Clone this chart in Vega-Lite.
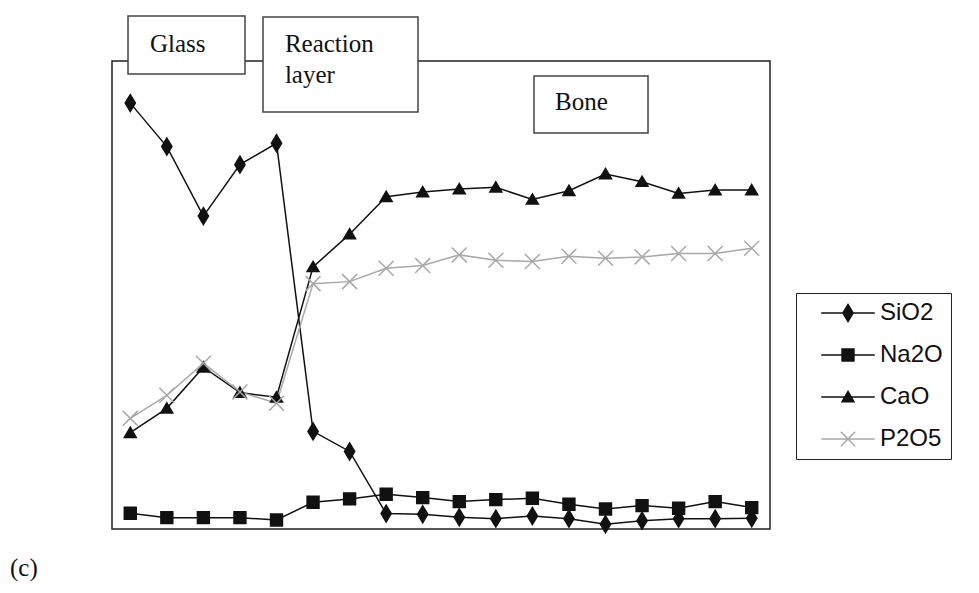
{
  "$schema": "https://vega.github.io/schema/vega-lite/v6.json",
  "width": 658,
  "height": 468,
  "autosize": "none",
  "padding": {"left": 112, "top": 61, "right": 209, "bottom": 64},
  "background": "white",
  "config": {
    "view": {"stroke": "#222", "strokeWidth": 1.5},
    "axis": {
      "labelFont": "Liberation Sans", "labelFontSize": 23, "labelColor": "#111", "labelOverlap": false,
      "domainColor": "#111", "domainWidth": 1.5, "tickColor": "#111", "tickWidth": 1.5, "tickSize": 8,
      "gridColor": "#333", "gridWidth": 1.5,
      "titleFont": "Liberation Sans", "titleFontSize": 31, "titleFontWeight": "bold", "titleColor": "#111"
    }
  },
  "datasets": {
    "oxides": [
    {"series": "SiO2", "i": 1, "value": 63.7}, {"series": "SiO2", "i": 2, "value": 57.2}, {"series": "SiO2", "i": 3, "value": 46.8},
    {"series": "SiO2", "i": 4, "value": 54.5}, {"series": "SiO2", "i": 5, "value": 57.7}, {"series": "SiO2", "i": 6, "value": 14.6},
    {"series": "SiO2", "i": 7, "value": 11.6}, {"series": "SiO2", "i": 8, "value": 2.3}, {"series": "SiO2", "i": 9, "value": 2.2},
    {"series": "SiO2", "i": 10, "value": 1.75}, {"series": "SiO2", "i": 11, "value": 1.55}, {"series": "SiO2", "i": 12, "value": 1.95},
    {"series": "SiO2", "i": 13, "value": 1.55}, {"series": "SiO2", "i": 14, "value": 0.7}, {"series": "SiO2", "i": 15, "value": 1.25},
    {"series": "SiO2", "i": 16, "value": 1.55}, {"series": "SiO2", "i": 17, "value": 1.55}, {"series": "SiO2", "i": 18, "value": 1.6},
    {"series": "Na2O", "i": 1, "value": 2.35}, {"series": "Na2O", "i": 2, "value": 1.7}, {"series": "Na2O", "i": 3, "value": 1.7},
    {"series": "Na2O", "i": 4, "value": 1.7}, {"series": "Na2O", "i": 5, "value": 1.35}, {"series": "Na2O", "i": 6, "value": 4.0},
    {"series": "Na2O", "i": 7, "value": 4.5}, {"series": "Na2O", "i": 8, "value": 5.2}, {"series": "Na2O", "i": 9, "value": 4.7},
    {"series": "Na2O", "i": 10, "value": 4.1}, {"series": "Na2O", "i": 11, "value": 4.4}, {"series": "Na2O", "i": 12, "value": 4.6},
    {"series": "Na2O", "i": 13, "value": 3.7}, {"series": "Na2O", "i": 14, "value": 3.0}, {"series": "Na2O", "i": 15, "value": 3.5},
    {"series": "Na2O", "i": 16, "value": 3.1}, {"series": "Na2O", "i": 17, "value": 4.1}, {"series": "Na2O", "i": 18, "value": 3.2},
    {"series": "CaO", "i": 1, "value": 14.4}, {"series": "CaO", "i": 2, "value": 18.05}, {"series": "CaO", "i": 3, "value": 24.2},
    {"series": "CaO", "i": 4, "value": 20.4}, {"series": "CaO", "i": 5, "value": 19.7}, {"series": "CaO", "i": 6, "value": 39.2},
    {"series": "CaO", "i": 7, "value": 44.1}, {"series": "CaO", "i": 8, "value": 49.7}, {"series": "CaO", "i": 9, "value": 50.4},
    {"series": "CaO", "i": 10, "value": 50.85}, {"series": "CaO", "i": 11, "value": 51.1}, {"series": "CaO", "i": 12, "value": 49.3},
    {"series": "CaO", "i": 13, "value": 50.6}, {"series": "CaO", "i": 14, "value": 53.1}, {"series": "CaO", "i": 15, "value": 51.95},
    {"series": "CaO", "i": 16, "value": 50.2}, {"series": "CaO", "i": 17, "value": 50.7}, {"series": "CaO", "i": 18, "value": 50.7},
    {"series": "P2O5", "i": 1, "value": 16.55}, {"series": "P2O5", "i": 2, "value": 20.0}, {"series": "P2O5", "i": 3, "value": 24.8},
    {"series": "P2O5", "i": 4, "value": 20.5}, {"series": "P2O5", "i": 5, "value": 18.8}, {"series": "P2O5", "i": 6, "value": 36.7},
    {"series": "P2O5", "i": 7, "value": 37.0}, {"series": "P2O5", "i": 8, "value": 39.0}, {"series": "P2O5", "i": 9, "value": 39.4},
    {"series": "P2O5", "i": 10, "value": 41.0}, {"series": "P2O5", "i": 11, "value": 40.2}, {"series": "P2O5", "i": 12, "value": 40.0},
    {"series": "P2O5", "i": 13, "value": 40.8}, {"series": "P2O5", "i": 14, "value": 40.5}, {"series": "P2O5", "i": 15, "value": 40.7},
    {"series": "P2O5", "i": 16, "value": 41.2}, {"series": "P2O5", "i": 17, "value": 41.2}, {"series": "P2O5", "i": 18, "value": 42.0}
    ],
    "zones": [{"zone": "Glass"}, {"zone": "Reaction layer"}, {"zone": "Bone"}, {"zone": "(c)"}]
  },
  "layer": [
    {
      "data": {"name": "oxides"},
      "mark": {"type": "line", "strokeWidth": 1.5},
      "encoding": {
        "x": {
          "field": "i", "type": "quantitative",
          "scale": {"domain": [0.5, 18.5], "nice": false, "zero": false},
          "axis": {
            "title": "l", "titleX": 338, "titleY": 69, "titleAlign": "center", "titleBaseline": "alphabetic",
            "values": [0.5, 1.5, 2.5, 3.5, 4.5, 5.5, 6.5, 7.5, 8.5, 9.5, 10.5, 11.5, 12.5, 13.5, 14.5, 15.5, 16.5, 17.5, 18.5],
            "labelExpr": "datum.value < 18 ? '' + (datum.value + 0.5) : ''",
            "labelOffset": 18.28, "labelAlign": "center", "labelPadding": 6,
            "labelOverlap": false, "labelFlush": false, "labelBound": false, "grid": false
          }
        },
        "y": {
          "field": "value", "type": "quantitative",
          "scale": {"domain": [0, 70], "nice": false},
          "axis": {
            "title": "oxid wt %", "titleAngle": -90, "titleX": -46, "titleY": 234, "titleAlign": "center", "titleBaseline": "alphabetic",
            "values": [0, 10, 20, 30, 40, 50, 60, 70], "grid": true, "labelPadding": 3
          }
        },
        "stroke": {
          "field": "series", "type": "nominal",
          "scale": {"domain": ["SiO2", "Na2O", "CaO", "P2O5"], "range": ["#111111", "#111111", "#111111", "#a8a8a8"]},
          "legend": {
            "orient": "none", "legendX": 684, "legendY": 232, "title": null,
            "padding": 8, "strokeColor": "#222", "fillColor": "white",
            "labelFont": "Liberation Sans", "labelFontSize": 24, "labelColor": "#111",
            "symbolSize": 289, "symbolOffset": 32, "labelOffset": 20, "rowPadding": 18,
            "symbolFillColor": "#111111", "symbolStrokeWidth": 1.5,
            "encode": {
              "symbols": {
                "update": {
                  "shape": {"signal": "datum.value === 'SiO2' ? 'M-3.15,0L3.15,0M0,-1L0.6,0L0,1L-0.6,0Z' : datum.value === 'Na2O' ? 'M-3.15,0L3.15,0M-0.7,-0.7L0.7,-0.7L0.7,0.7L-0.7,0.7Z' : datum.value === 'CaO' ? 'M-3.15,0L3.15,0M0,-0.65L0.7,0.55L-0.7,0.55Z' : 'M-3.15,0L3.15,0M-0.85,-0.85L0.85,0.85M-0.85,0.85L0.85,-0.85'"},
                  "fill": {"signal": "datum.value === 'P2O5' ? 'transparent' : '#111111'"},
                  "strokeWidth": {"value": 1.5}
                }
              }
            }
          }
        }
      }
    },
    {
      "data": {"name": "oxides"},
      "mark": {"type": "point", "filled": true, "size": 289, "strokeWidth": 1.5, "opacity": 1},
      "encoding": {
        "x": {"field": "i", "type": "quantitative", "axis": null},
        "y": {"field": "value", "type": "quantitative", "axis": null},
        "fill": {"condition": {"test": "datum.series === 'P2O5'", "value": "transparent"}, "value": "#111111"},
        "stroke": {"condition": {"test": "datum.series === 'P2O5'", "value": "#a8a8a8"}, "value": "#111111"},
        "shape": {
          "condition": [
            {"test": "datum.series === 'SiO2'", "value": "M0,-1L0.6,0L0,1L-0.6,0Z"},
            {"test": "datum.series === 'Na2O'", "value": "M-0.7,-0.7L0.7,-0.7L0.7,0.7L-0.7,0.7Z"},
            {"test": "datum.series === 'CaO'", "value": "M0,-0.65L0.7,0.55L-0.7,0.55Z"}
          ],
          "value": "M-0.88,-0.88L0.88,0.88M-0.88,0.88L0.88,-0.88"
        }
      }
    },
    {
      "data": {"name": "zones"},
      "transform": [{"filter": "datum.zone === 'Glass'"}],
      "mark": {"type": "rect", "fill": "white", "stroke": "#444", "strokeWidth": 1.5},
      "encoding": {"x": {"datum": 0.938, "type": "quantitative", "axis": null}, "x2": {"datum": 4.138}, "y": {"datum": 76.73, "type": "quantitative", "axis": null}, "y2": {"datum": 68.06}}
    },
    {
      "data": {"name": "zones"},
      "transform": [{"filter": "datum.zone === 'Reaction layer'"}],
      "mark": {"type": "rect", "fill": "white", "stroke": "#444", "strokeWidth": 1.5},
      "encoding": {"x": {"datum": 4.631, "type": "quantitative", "axis": null}, "x2": {"datum": 8.871}, "y": {"datum": 76.58, "type": "quantitative", "axis": null}, "y2": {"datum": 62.37}}
    },
    {
      "data": {"name": "zones"},
      "transform": [{"filter": "datum.zone === 'Bone'"}],
      "mark": {"type": "rect", "fill": "white", "stroke": "#444", "strokeWidth": 1.5},
      "encoding": {"x": {"datum": 12.044, "type": "quantitative", "axis": null}, "x2": {"datum": 15.163}, "y": {"datum": 67.76, "type": "quantitative", "axis": null}, "y2": {"datum": 59.23}}
    },
    {
      "data": {"name": "zones"},
      "transform": [{"filter": "datum.zone === 'Glass'"}],
      "mark": {"type": "text", "font": "Liberation Serif", "fontSize": 25, "align": "left", "baseline": "alphabetic", "color": "#111"},
      "encoding": {"x": {"datum": 1.54, "type": "quantitative", "axis": null}, "y": {"datum": 71.39, "type": "quantitative", "axis": null}, "text": {"field": "zone"}}
    },
    {
      "data": {"name": "zones"},
      "transform": [{"filter": "datum.zone === 'Reaction layer'"}],
      "mark": {"type": "text", "font": "Liberation Serif", "fontSize": 25, "align": "left", "baseline": "alphabetic", "color": "#111", "lineHeight": 31},
      "encoding": {"x": {"datum": 5.23, "type": "quantitative", "axis": null}, "y": {"datum": 71.3, "type": "quantitative", "axis": null}, "text": {"value": ["Reaction", "layer"]}}
    },
    {
      "data": {"name": "zones"},
      "transform": [{"filter": "datum.zone === 'Bone'"}],
      "mark": {"type": "text", "font": "Liberation Serif", "fontSize": 25, "align": "left", "baseline": "alphabetic", "color": "#111"},
      "encoding": {"x": {"datum": 12.62, "type": "quantitative", "axis": null}, "y": {"datum": 62.67, "type": "quantitative", "axis": null}, "text": {"field": "zone"}}
    },
    {
      "data": {"name": "zones"},
      "transform": [{"filter": "datum.zone === '(c)'"}],
      "mark": {"type": "text", "font": "Liberation Serif", "fontSize": 25, "align": "left", "baseline": "alphabetic", "color": "#111"},
      "encoding": {"x": {"datum": -2.29, "type": "quantitative", "axis": null}, "y": {"datum": -7.1, "type": "quantitative", "axis": null}, "text": {"field": "zone"}}
    }
  ]
}
